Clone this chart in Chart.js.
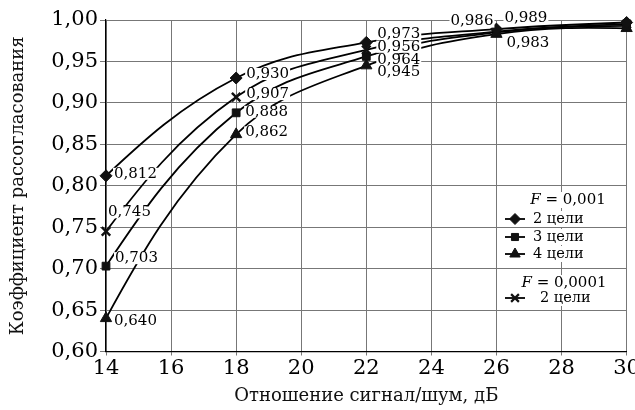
<!DOCTYPE html>
<html><head><meta charset="utf-8">
<script src="https://cdn.jsdelivr.net/npm/chart.js@4/dist/chart.umd.min.js"></script>
<style>html,body{margin:0;padding:0;background:#fff}#wrap{width:635px;height:410px}</style>
</head><body><div id="wrap"><canvas id="c" width="635" height="410"></canvas></div>
<script>
// ---- data ----
const snrDb = [14, 18, 22, 26, 30];
const twoTargetsF001 = [0.812, 0.930, 0.973, 0.989, 0.997];
const twoTargetsF0001 = [0.745, 0.907, 0.964, 0.986, 0.995];
const threeTargetsF001 = [0.703, 0.888, 0.956, 0.985, 0.993];
const fourTargetsF001 = [0.640, 0.862, 0.945, 0.983, 0.990];
const labelsTwoF001 = ['0,812', '0,930', '0,973', '0,989', null];
const labelsTwoF0001 = ['0,745', '0,907', '0,956', '0,986', null];
const labelsThreeF001 = ['0,703', '0,888', '0,964', null, null];
const labelsFourF001 = ['0,640', '0,862', '0,945', '0,983', null];
const xTickValues = [14, 16, 18, 20, 22, 24, 26, 28, 30];
const yTickValues = [0.60, 0.65, 0.70, 0.75, 0.80, 0.85, 0.90, 0.95, 1.00];

const SERIF = '"DejaVu Serif", "Liberation Serif", serif';
const pts = arr => arr.map((v, i) => ({x: snrDb[i], y: v}));

// label offsets (layout only): [dx, dy, align]
const labelOffsets = [
  [[8,-2,'left'],[10,-4,'left'],[11,-8,'left'],[8,-11,'left'],null],
  [[2,-19,'left'],[10,-3,'left'],[11,-3,'left'],[-3,-10,'right'],null],
  [[9,-8,'left'],[9,-1,'left'],[11,4,'left'],null,null],
  [[8,3,'left'],[9,-2,'left'],[11,6.5,'left'],[10,9,'left'],null]
];
const labelTexts = [labelsTwoF001, labelsTwoF0001, labelsThreeF001, labelsFourF001];

function ds(label, data, style, radius, bw) {
  return {label, data: pts(data), borderColor: '#000', borderWidth: 1.8, clip: false,
    pointStyle: style, pointRadius: radius, pointBackgroundColor: '#111',
    pointBorderColor: '#111', pointBorderWidth: bw, tension: 0.4, fill: false};
}

// smoother end conditions for the spline (curve bends from the first point)
const endCurvePlugin = {
  id: 'endCurve',
  beforeDatasetsDraw(chart) {
    chart.data.datasets.forEach((d, i) => {
      const meta = chart.getDatasetMeta(i);
      const line = meta.dataset;
      line.updateControlPoints(chart.chartArea, 'x');
      const p = meta.data;
      if (p.length < 2) return;
      const p0 = p[0], p1 = p[1];
      p0.cp2x = p0.x + (p1.cp1x - p0.x) * 0.5;
      p0.cp2y = p0.y + (p1.cp1y - p0.y) * 0.5;
      const n = p.length - 1, pn = p[n], pm = p[n - 1];
      pn.cp1x = pn.x + (pm.cp2x - pn.x) * 0.5;
      pn.cp1y = pn.y + (pm.cp2y - pn.y) * 0.5;
    });
  }
};

const labelPlugin = {
  id: 'pointLabels',
  afterDatasetsDraw(chart) {
    const ctx = chart.ctx;
    ctx.save();
    ctx.font = '15px ' + SERIF;
    ctx.textBaseline = 'middle';
    labelTexts.forEach((arr, di) => {
      const meta = chart.getDatasetMeta(di);
      arr.forEach((t, i) => {
        if (!t) return;
        const p = meta.data[i];
        const [dx, dy, al] = labelOffsets[di][i];
        const w = ctx.measureText(t).width;
        let x = p.x + dx, y = p.y + dy;
        const left = al === 'right' ? x - w : x;
        ctx.fillStyle = '#fff';
        ctx.fillRect(left - 1, y - 6, w + 2, 12);
        ctx.fillStyle = '#000';
        ctx.textAlign = al;
        ctx.fillText(t, x, y);
      });
    });
    ctx.restore();
  }
};

const legendPlugin = {
  id: 'customLegend',
  afterDraw(chart) {
    const ctx = chart.ctx;
    ctx.save();
    ctx.textBaseline = 'middle';
    function header(x, y, rest) {
      ctx.font = 'italic 15px ' + SERIF;
      const wF = ctx.measureText('F').width;
      ctx.font = '15px ' + SERIF;
      const wR = ctx.measureText(rest).width;
      const total = wF + wR;
      const sx = x - total / 2;
      ctx.fillStyle = '#fff';
      ctx.fillRect(sx - 2, y - 8, total + 4, 16);
      ctx.fillStyle = '#000';
      ctx.textAlign = 'left';
      ctx.font = 'italic 15px ' + SERIF;
      ctx.fillText('F', sx, y);
      ctx.font = '15px ' + SERIF;
      ctx.fillText(rest, sx + wF, y);
    }
    function row(y, style, r, bw, text, tx) {
      ctx.font = '14.5px ' + SERIF;
      const w = ctx.measureText(text).width;
      ctx.fillStyle = '#fff';
      ctx.fillRect(503, y - 8, tx - 503 + w + 3, 16);
      ctx.strokeStyle = '#000';
      ctx.lineWidth = 1.8;
      ctx.beginPath(); ctx.moveTo(505, y); ctx.lineTo(525, y); ctx.stroke();
      ctx.fillStyle = '#111';
      ctx.strokeStyle = '#111';
      ctx.lineWidth = bw;
      Chart.helpers.drawPoint(ctx, {pointStyle: style, radius: r, borderWidth: bw}, 515, y);
      ctx.fillStyle = '#000';
      ctx.textAlign = 'left';
      ctx.fillText(text, tx, y);
    }
    header(568, 200, ' = 0,001');
    row(219, 'rectRot', 5.5, 1, '2 цели', 533);
    row(237, 'rect', 5, 1, '3 цели', 533);
    row(254, 'triangle', 6, 1, '4 цели', 533);
    header(564, 283, ' = 0,0001');
    row(298, 'crossRot', 5.5, 2.2, '2 цели', 540);
    ctx.restore();
  }
};

new Chart(document.getElementById('c'), {
  type: 'line',
  data: {datasets: [
    ds('2 цели F=0,001', twoTargetsF001, 'rectRot', 6, 1),
    ds('2 цели F=0,0001', twoTargetsF0001, 'crossRot', 6, 2.4),
    ds('3 цели F=0,001', threeTargetsF001, 'rect', 5.5, 1),
    ds('4 цели F=0,001', fourTargetsF001, 'triangle', 6.5, 1)
  ]},
  options: {
    responsive: false, animation: false,
    layout: {padding: {top: 20, right: 3, left: 0, bottom: 0}},
    plugins: {legend: {display: false}, tooltip: {enabled: false}},
    scales: {
      x: {type: 'linear', min: 14, max: 30,
        afterBuildTicks: s => { s.ticks = xTickValues.map(v => ({value: v})); },
        afterFit: s => { s.height = 58.5; s.paddingLeft = 0; s.paddingRight = 0; },
        ticks: {font: {family: SERIF, size: 21}, color: '#000', padding: 0, maxRotation: 0, autoSkip: false,
          callback: v => String(v)},
        grid: {color: '#777', lineWidth: 1, tickLength: 4, drawTicks: true},
        border: {color: '#000', width: 1.2},
        title: {display: true, text: 'Отношение сигнал/шум, дБ', font: {family: SERIF, size: 18}, color: '#111', padding: {top: 0, bottom: 3}}
      },
      y: {min: 0.60, max: 1.00,
        afterBuildTicks: s => { s.ticks = yTickValues.map(v => ({value: v})); },
        afterFit: s => { s.width = 106; },
        ticks: {font: {family: SERIF, size: 21}, color: '#000', padding: 2, autoSkip: false,
          callback: v => v.toFixed(2).replace('.', ',')},
        grid: {color: '#777', lineWidth: 1, tickLength: 6},
        border: {color: '#000', width: 1.2},
        title: {display: true, text: 'Коэффициент рассогласования', font: {family: SERIF, size: 18}, color: '#111', padding: {top: 8, bottom: 0}}
      }
    }
  },
  plugins: [endCurvePlugin, labelPlugin, legendPlugin]
});
</script></body></html>
